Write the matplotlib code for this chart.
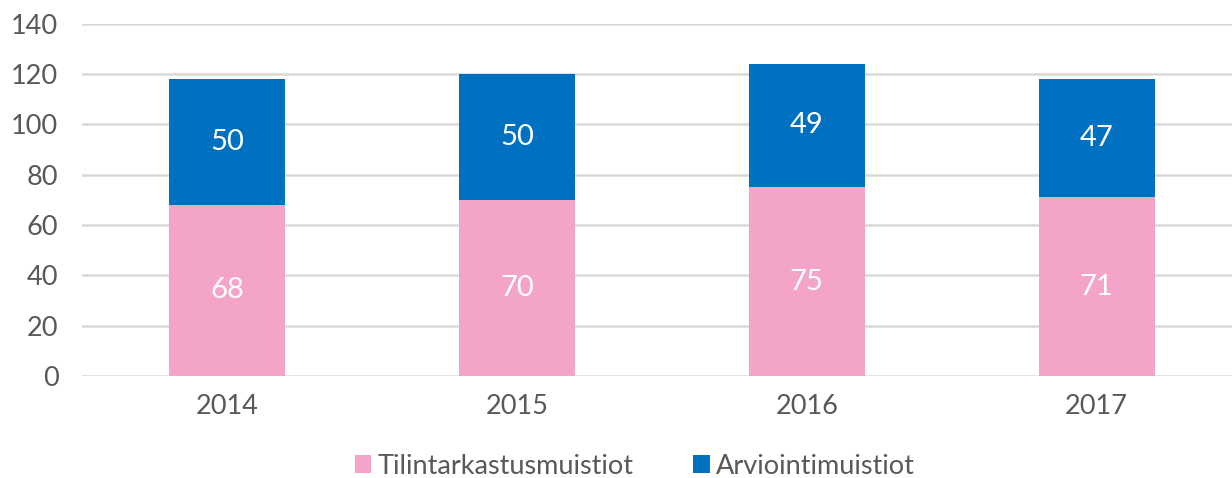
import matplotlib
matplotlib.use("Agg")
import matplotlib.pyplot as plt
from matplotlib.patches import Patch
import numpy as np

years = ["2014", "2015", "2016", "2017"]
tilintarkastus = [68, 70, 75, 71]
arviointi = [50, 50, 49, 47]
series_names = ["Tilintarkastusmuistiot", "Arviointimuistiot"]

pink = "#F4A4C8"
blue = "#0070C0"
txt = "#595959"

plt.rcParams["font.family"] = ["Lato", "DejaVu Sans"]

fig = plt.figure(figsize=(12.32, 4.78), dpi=100)
ax = fig.add_axes([82 / 1232, 1 - 376 / 478, 1150 / 1232, (376 - 23.5) / 478])

x = np.arange(len(years))
w = 0.4
b1 = ax.bar(x, tilintarkastus, w, color=pink, zorder=3)
b2 = ax.bar(x, arviointi, w, bottom=tilintarkastus, color=blue, zorder=3)
ax.bar_label(b1, labels=[str(v) for v in tilintarkastus], label_type="center",
             color="white", fontsize=21)
ax.bar_label(b2, labels=[str(v) for v in arviointi], label_type="center",
             color="white", fontsize=21)

ax.set_ylim(0, 140)
ax.set_yticks(range(0, 141, 20))
ax.set_xlim(-0.5, 3.5 - 8 / 290 * 1.2)
ax.set_xticks(x)
ax.set_xticklabels(years)
ax.yaxis.grid(True, color="#D9D9D9", linewidth=1.8, zorder=0)
ax.set_axisbelow(True)
for s in ax.spines.values():
    s.set_visible(False)
ax.tick_params(axis="both", length=0, labelsize=19.5, colors=txt)
ax.tick_params(axis="y", pad=17)
ax.tick_params(axis="x", pad=13)

handles = [Patch(facecolor=pink, label=series_names[0]),
           Patch(facecolor=blue, label=series_names[1])]
fig.legend(handles=handles, loc="center", bbox_to_anchor=(635 / 1232, 1 - 466 / 478),
           ncol=2, frameon=False, fontsize=19.5, labelcolor=txt,
           handlelength=0.6, handleheight=0.6, handletextpad=0.25, columnspacing=2.2)

fig.savefig("out.png", dpi=100)
